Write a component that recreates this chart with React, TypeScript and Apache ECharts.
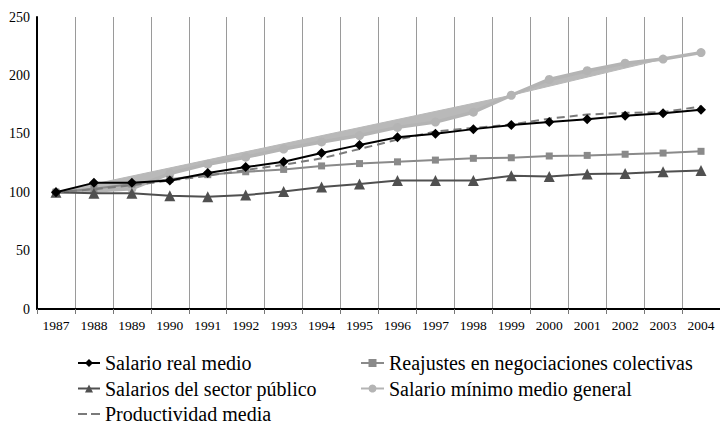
import React, { useEffect, useRef } from "react";
import * as echarts from "echarts";

const years = ["1987","1988","1989","1990","1991","1992","1993","1994","1995","1996","1997","1998","1999","2000","2001","2002","2003","2004"];
const salarioRealMedio = [100,108,108,110,116.5,121.5,126,133.5,140.5,147,150,154,157.5,160,162.5,165.5,167.5,170.5];
const reajustes = [100,103,107,111,115,117.5,119.5,122.5,124.5,126,127.5,129,129.5,131,131.5,132.5,133.5,135];
const sectorPublico = [100,99,99,97,96,97.5,100.5,104.5,107,110,110,110,114,113.5,115.5,116,117.5,118.5];
const salarioMinimo = [100,101,103,116,124,130,137,143,148.5,155.5,160,168.5,183,196.5,204,210.5,214,219.5];
const productividad = [100,102.5,106,110,114,119,123.5,129,137,145,152,155,158,163,166.5,168,168.5,173.5];
// edge of the light grey band drawn around the minimum wage line
const bandEdgeYears = ["1987","1999","2003"];
const bandEdgeValues = [100,183,214];
const yTicks = [0,50,100,150,200,250];

const FONT = "Liberation Serif";

export default function App() {
  const ref = useRef<HTMLDivElement>(null);
  useEffect(() => {
    if (!ref.current) return;
    const chart = echarts.init(ref.current, undefined, { renderer: "svg" });
    const lastBandIdx = years.indexOf(bandEdgeYears[bandEdgeYears.length - 1]);
    const legendText = { fontFamily: FONT, fontSize: 20, color: "#000" };
    const dashIcon = "path://M0,0h9v2h-9z M13,0h9v2h-9z";
    const option: any = {
      animation: false,
      backgroundColor: "#fff",
      textStyle: { fontFamily: FONT },
      grid: { left: 37, top: 17, right: -5, bottom: 117, containLabel: false },
      xAxis: {
        type: "category",
        data: years,
        boundaryGap: true,
        axisLine: { lineStyle: { color: "#000", width: 2 } },
        axisTick: { show: true, length: 5, lineStyle: { color: "#777", width: 1 } },
        axisLabel: { interval: 0, color: "#000", fontFamily: FONT, fontSize: 13.5, margin: 9 },
        splitLine: { show: true, interval: 0, lineStyle: { color: "#9a9a9a", width: 1 } },
      },
      yAxis: {
        type: "value",
        min: yTicks[0],
        max: yTicks[yTicks.length - 1],
        interval: 50,
        axisLine: { show: true, lineStyle: { color: "#000", width: 2 } },
        axisTick: { show: false },
        splitLine: { show: false },
        axisLabel: { color: "#000", fontFamily: FONT, fontSize: 14, margin: 7 },
      },
      legend: [
        {
          left: 77, top: 353, height: 80, padding: 0, orient: "vertical", itemGap: 5.5, itemWidth: 22, itemHeight: 10,
          textStyle: legendText,
          data: [
            { name: "Salario real medio" },
            { name: "Salarios del sector público" },
            { name: "Productividad media", icon: dashIcon, itemStyle: { color: "#7a7a7a" } },
          ],
        },
        {
          left: 360, top: 353, height: 80, padding: 0, orient: "vertical", itemGap: 5.5, itemWidth: 23, itemHeight: 10,
          textStyle: legendText,
          data: ["Reajustes en negociaciones colectivas", "Salario mínimo medio general"],
        },
      ],
      series: [
        {
          type: "custom",
          name: "band",
          z: 1,
          silent: true,
          coordinateSystem: "cartesian2d",
          data: [[0, 100]],
          renderItem: (params: any, api: any) => {
            const pts: number[][] = [];
            for (let i = 0; i <= lastBandIdx; i++) pts.push(api.coord([i, salarioMinimo[i]]));
            for (let j = bandEdgeYears.length - 1; j >= 0; j--) {
              pts.push(api.coord([years.indexOf(bandEdgeYears[j]), bandEdgeValues[j]]));
            }
            return { type: "polygon", shape: { points: pts }, style: { fill: "#b9b9b9", stroke: "#b9b9b9", lineWidth: 1 } };
          },
        },
        {
          name: "Salario mínimo medio general", type: "line", data: salarioMinimo, z: 2,
          symbol: "circle", symbolSize: 9,
          itemStyle: { color: "#b4b4b4" }, lineStyle: { color: "#b4b4b4", width: 3.5 },
        },
        {
          name: "Reajustes en negociaciones colectivas", type: "line", data: reajustes, z: 3,
          symbol: "rect", symbolSize: 7,
          itemStyle: { color: "#8a8a8a" }, lineStyle: { color: "#8a8a8a", width: 2 },
        },
        {
          name: "Salarios del sector público", type: "line", data: sectorPublico, z: 4,
          symbol: "triangle", symbolSize: 11,
          itemStyle: { color: "#505050" }, lineStyle: { color: "#505050", width: 2 },
        },
        {
          name: "Productividad media", type: "line", data: productividad, z: 5,
          symbol: "none",
          itemStyle: { color: "#7a7a7a" }, lineStyle: { color: "#7a7a7a", width: 2, type: [8, 5] },
        },
        {
          name: "Salario real medio", type: "line", data: salarioRealMedio, z: 6,
          symbol: "diamond", symbolSize: 10,
          itemStyle: { color: "#000" }, lineStyle: { color: "#000", width: 2 },
        },
      ],
    };
    chart.setOption(option);
    return () => chart.dispose();
  }, []);
  return <div ref={ref} style={{ position: "absolute", left: 0, top: 0, width: 720, height: 426 }} />;
}
